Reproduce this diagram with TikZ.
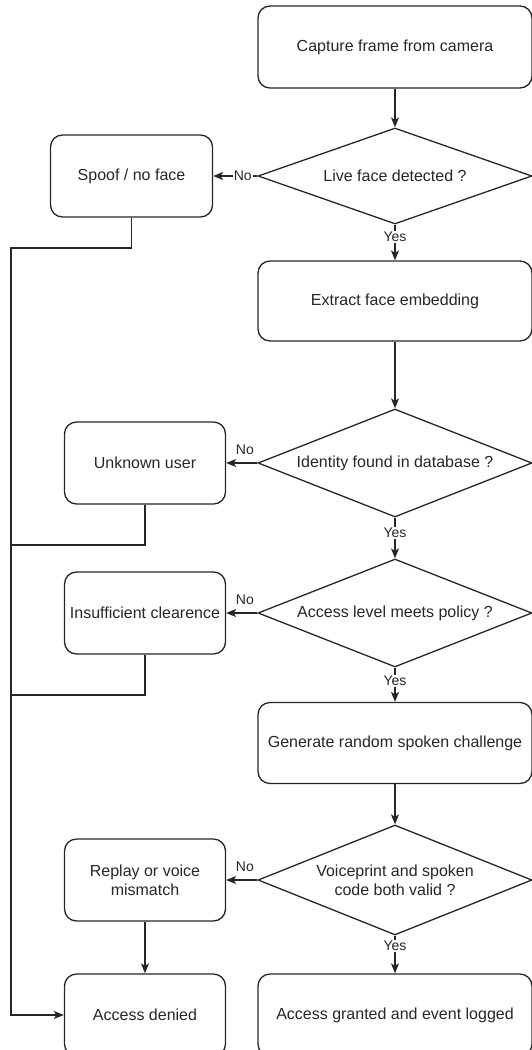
\documentclass[tikz,border=0pt]{standalone}
\usepackage{fontspec}
\setmainfont{Liberation Sans}
\usetikzlibrary{shapes.geometric,arrows.meta}

\begin{document}
\begin{tikzpicture}[x=1pt,y=-1pt,
  ink/.style={draw=black!85, line width=1.3pt},
  flowbox/.style={ink, rectangle, rounded corners=12pt, minimum width=#1,
    minimum height=82pt, align=center, inner sep=2pt,
    font=\fontsize{16}{19}\selectfont, text=black!85},
  decision/.style={ink, diamond, shape aspect=2.6, inner sep=0pt,
    minimum width=274pt, minimum height=#1, align=center,
    font=\fontsize{16}{19}\selectfont, text=black!85},
  conn/.style={ink},
  arr/.style={ink, -{Stealth[length=10pt,width=8pt,inset=2.5pt]}},
  lbl/.style={font=\fontsize{14}{16}\selectfont, text=black!85,
    inner sep=1pt, fill=white},
  lblabove/.style={font=\fontsize{14}{16}\selectfont, text=black!85,
    inner sep=1pt, above=7pt}
]
\useasboundingbox (0,0) rectangle (532,1050);
\clip (0,0) rectangle (532,1050);

% main column
\node[flowbox=274pt] (cap) at (395,47) {Capture frame from camera};
\node[decision=96pt] (d1) at (395,176) {Live face detected ?};
\node[flowbox=274pt, minimum height=80pt] (extract) at (395,301) {Extract face embedding};
\node[decision=108pt] (d2) at (395,463) {Identity found in database ?};
\node[decision=108pt] (d3) at (395,613) {Access level meets policy ?};
\node[flowbox=274pt, minimum height=81pt] (gen) at (395,743) {Generate random spoken challenge};
\node[decision=110pt] (d4) at (395,880) {Voiceprint and spoken\\code both valid ?};
\node[flowbox=274pt] (granted) at (395,1015) {Access granted and event logged};

% rejection column
\node[flowbox=162pt] (spoof) at (131.5,176) {Spoof / no face};
\node[flowbox=161pt] (unknown) at (145,463) {Unknown user};
\node[flowbox=161pt] (insuff) at (145,613) {Insufficient clearence};
\node[flowbox=161pt] (replay) at (145,880) {Replay or voice\\mismatch};
\node[flowbox=161pt] (denied) at (145,1015) {Access denied};

% bends of the shared return line on the left
\coordinate (busA) at (11,248);
\coordinate (busB) at (11,545);
\coordinate (busC) at (11,695);

% success path
\draw[arr] (cap) -- (d1);
\draw[arr] (d1) -- node[lbl, pos=0.34] {Yes} (extract);
\draw[arr] (extract) -- (d2);
\draw[arr] (d2) -- node[lbl, pos=0.38] {Yes} (d3);
\draw[arr] (d3) -- node[lbl, pos=0.38] {Yes} (gen);
\draw[arr] (gen) -- (d4);
\draw[arr] (d4) -- node[lbl, pos=0.27] {Yes} (granted);

% failure branches
\draw[arr] (d1) -- node[lbl, pos=0.33] {No} (spoof);
\draw[arr] (d2) -- node[lblabove, pos=0.4] {No} (unknown);
\draw[arr] (d3) -- node[lblabove, pos=0.4] {No} (insuff);
\draw[arr] (d4) -- node[lblabove, pos=0.4] {No} (replay);
\draw[arr] (replay) -- (denied);

% return line into "Access denied"
\draw[arr] (spoof.south) |- (busA) |- (denied.west);
\draw[conn] (unknown.south) |- (busB);
\draw[conn] (insuff.south) |- (busC);
\end{tikzpicture}
\end{document}
